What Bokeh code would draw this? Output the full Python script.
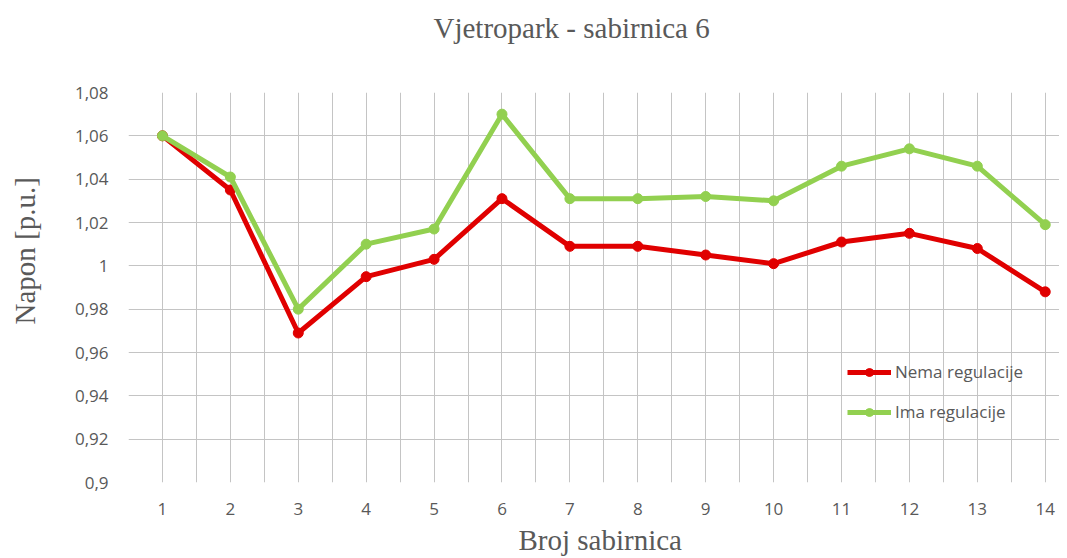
from bokeh.plotting import figure
from bokeh.models import Range1d, FixedTicker, Legend, LegendItem, Title, LinearAxis
from bokeh.embed import file_html
from bokeh.resources import INLINE

# ---- data ----
buses = list(range(1, 15))
x_tick_labels = [str(b) for b in buses]
nema_regulacije = [1.060, 1.035, 0.969, 0.995, 1.003, 1.031, 1.009, 1.009, 1.005, 1.001, 1.011, 1.015, 1.008, 0.988]
ima_regulacije = [1.060, 1.041, 0.980, 1.010, 1.017, 1.070, 1.031, 1.031, 1.032, 1.030, 1.046, 1.054, 1.046, 1.019]
y_ticks = [0.9, 0.92, 0.94, 0.96, 0.98, 1.0, 1.02, 1.04, 1.06, 1.08]
y_tick_labels = ["0,9", "0,92", "0,94", "0,96", "0,98", "1", "1,02", "1,04", "1,06", "1,08"]
title_text = "Vjetropark - sabirnica 6"
x_label = "Broj sabirnica"
y_label = "Napon [p.u.]"
series_names = ["Nema regulacije", "Ima regulacije"]

RED = "#E00000"
GREEN = "#92D050"
GRID = "#C4C4C4"
TXT = "#595959"
SANS = "Open Sans"
SERIF = "Liberation Serif"

p = figure(frame_width=931, frame_height=390,
           min_border_left=128, min_border_right=0, min_border_top=92, min_border_bottom=74,
           x_range=Range1d(0.5, 14.21), y_range=Range1d(y_ticks[0], y_ticks[-1]),
           output_backend="svg", toolbar_location=None)
p.outline_line_color = None
p.background_fill_color = "white"
p.border_fill_color = "white"

xa = p.below[0]
ya = p.left[0]


def spacer(px, tick):
    """An axis with one invisible tick and an empty label: it only reserves space."""
    return LinearAxis(ticker=FixedTicker(ticks=[tick]), major_label_overrides={tick: ""},
                      axis_line_color=None,
                      major_tick_in=0, major_tick_out=px, major_tick_line_color=None,
                      minor_tick_in=0, minor_tick_out=0, minor_tick_line_color=None,
                      major_label_standoff=0, major_label_text_font_size="1px")


# title above (spacer between frame and title)
p.add_layout(spacer(49, buses[0]), "above")
p.add_layout(Title(text=title_text, align="left", offset=305, standoff=0,
                   text_font=SERIF, text_font_size="29px", text_font_style="normal",
                   text_color=TXT), "above")

# x axis title below
p.add_layout(Title(text=x_label, align="left", offset=390, standoff=8,
                   text_font=SERIF, text_font_size="29px", text_font_style="normal",
                   text_color=TXT), "below")

# y axis title left (spacer between tick labels and title)
p.add_layout(spacer(31, y_ticks[0]), "left")
p.add_layout(Title(text=y_label, align="left", offset=158, standoff=0,
                   text_font=SERIF, text_font_size="29px", text_font_style="normal",
                   text_color=TXT), "left")

# grid: lines at every category centre and every category boundary
half_steps = [b - 0.5 for b in buses] + buses + [buses[-1] + 0.5]
p.xgrid[0].ticker = FixedTicker(ticks=sorted(half_steps))
p.ygrid[0].ticker = FixedTicker(ticks=y_ticks)
for g in (p.xgrid[0], p.ygrid[0]):
    g.grid_line_color = GRID
    g.grid_line_width = 1

for ax in (xa, ya):
    ax.axis_line_color = None
    ax.major_tick_line_color = None
    ax.minor_tick_line_color = None
    ax.major_label_text_font = SANS
    ax.major_label_text_font_size = "17px"
    ax.major_label_text_color = TXT

xa.ticker = FixedTicker(ticks=buses)
xa.major_label_overrides = {b: s for b, s in zip(buses, x_tick_labels)}
xa.major_label_standoff = 14
ya.ticker = FixedTicker(ticks=y_ticks)
ya.major_label_overrides = {t: s for t, s in zip(y_ticks, y_tick_labels)}
ya.major_label_standoff = 14

r1 = p.line(buses, nema_regulacije, line_color=RED, line_width=5)
s1 = p.scatter(buses, nema_regulacije, size=10, fill_color=RED, line_color=RED)
r2 = p.line(buses, ima_regulacije, line_color=GREEN, line_width=5)
s2 = p.scatter(buses, ima_regulacije, size=10, fill_color=GREEN, line_color=GREEN)

legend = Legend(items=[LegendItem(label=series_names[0], renderers=[r1, s1]),
                       LegendItem(label=series_names[1], renderers=[r2, s2])],
                location=(719, 59), orientation="vertical",
                background_fill_alpha=0, border_line_color=None,
                padding=0, margin=0, spacing=17,
                glyph_width=44, glyph_height=20, label_height=20, label_standoff=4,
                label_text_font=SANS, label_text_font_size="17px", label_text_color=TXT)
p.add_layout(legend)

open("out.html", "w").write(file_html(p, INLINE))
